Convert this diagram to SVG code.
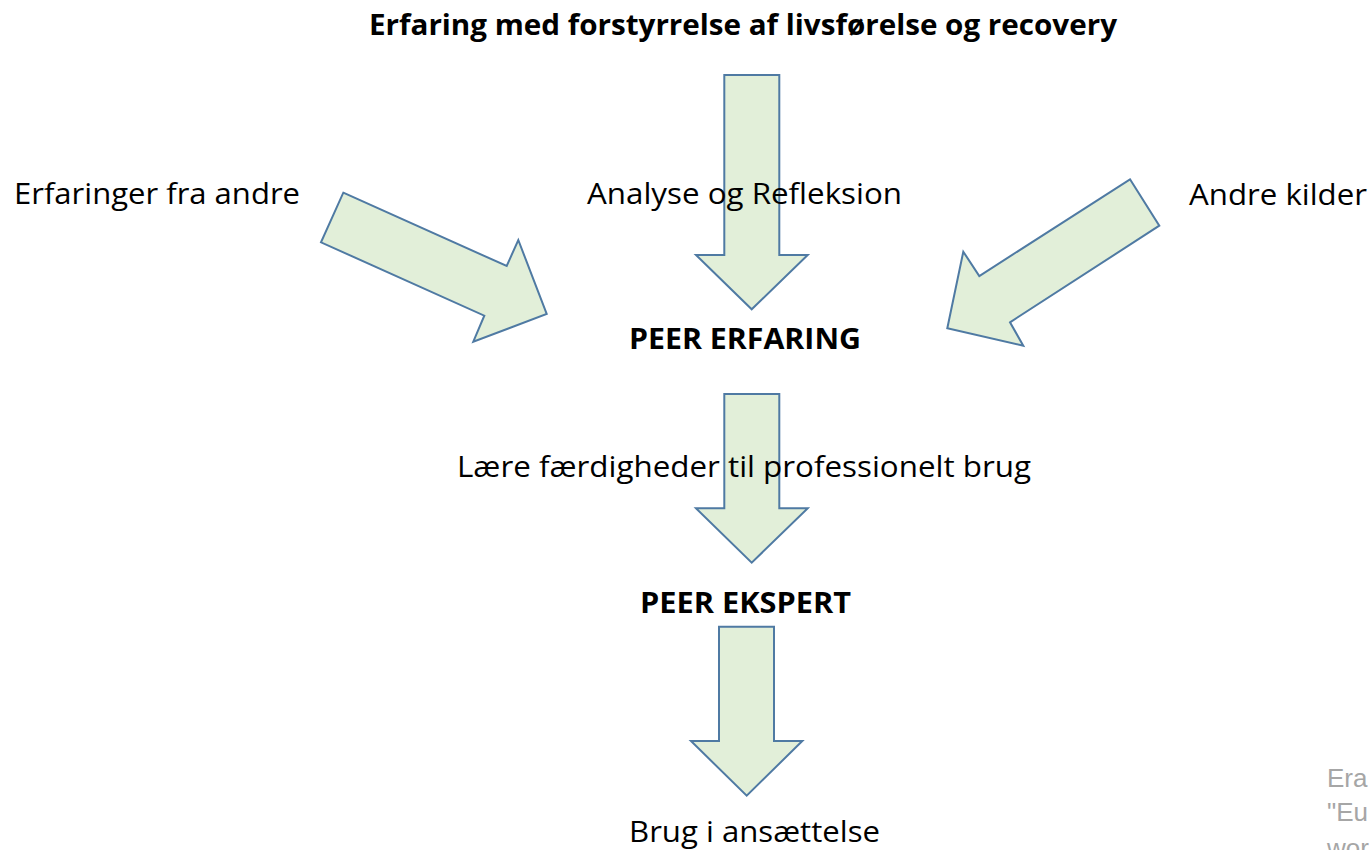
<svg xmlns="http://www.w3.org/2000/svg" width="1372" height="850" viewBox="0 0 1372 850">
<style>
.arr{fill:#e2efd9;stroke:#4f7aa3;stroke-width:2;stroke-linejoin:miter}
.t{font-family:"Open Sans","Noto Sans","Liberation Sans",sans-serif;font-size:29px;fill:#000}
.b{font-weight:bold}
.g{font-family:"Liberation Sans",Arial,sans-serif;font-size:26px;fill:#a6a6a6}
</style>
<rect width="1372" height="850" fill="#fff"/>
<g id="connectors">
<polygon id="arrow-top" class="arr" points="724.3,75 779.3,75 779.3,255 807.7,255 751.7,309.3 696,255 724.3,255"/>
<polygon id="arrow-left" class="arr" points="343.3,192.7 506.7,266 518.3,240 546.7,314 473.3,341.7 484.3,315.7 321,242.3"/>
<polygon id="arrow-right" class="arr" points="1130,179.3 1159.3,225.7 1010,322.3 1023.3,345.7 947.3,328.3 963.3,251.7 979.3,276"/>
<polygon id="arrow-mid" class="arr" points="724.3,394 779.3,394 779.3,508.3 807.7,508.3 751.7,562.7 696,508.3 724.3,508.3"/>
<polygon id="arrow-bottom" class="arr" points="719,626.7 774,626.7 774,741 802.3,741 746.7,795.7 691,741 719,741"/>
</g>
<g id="title"><text class="t b" x="369" y="35" textLength="748" lengthAdjust="spacingAndGlyphs">Erfaring med forstyrrelse af livsførelse og recovery</text></g>
<g id="erfaringer"><text class="t" x="14" y="204" textLength="286" lengthAdjust="spacingAndGlyphs">Erfaringer fra andre</text></g>
<g id="analyse"><text class="t" x="587" y="204" textLength="315" lengthAdjust="spacingAndGlyphs">Analyse og Refleksion</text></g>
<g id="andre"><text class="t" x="1189" y="205" textLength="178" lengthAdjust="spacingAndGlyphs">Andre kilder</text></g>
<g id="peer-erfaring"><text class="t b" x="629" y="349" textLength="232" lengthAdjust="spacingAndGlyphs">PEER ERFARING</text></g>
<g id="laere"><text class="t" x="457" y="477" textLength="574" lengthAdjust="spacingAndGlyphs">Lære færdigheder til professionelt brug</text></g>
<g id="peer-ekspert"><text class="t b" x="640" y="613" textLength="211" lengthAdjust="spacingAndGlyphs">PEER EKSPERT</text></g>
<g id="brug"><text class="t" x="629" y="842" textLength="251" lengthAdjust="spacingAndGlyphs">Brug i ansættelse</text></g>
<g id="footnote">
<text class="g" x="1327" y="787">Era</text>
<text class="g" x="1327" y="821">"Eu</text>
<text class="g" x="1327" y="857">wor</text>
</g>
</svg>
